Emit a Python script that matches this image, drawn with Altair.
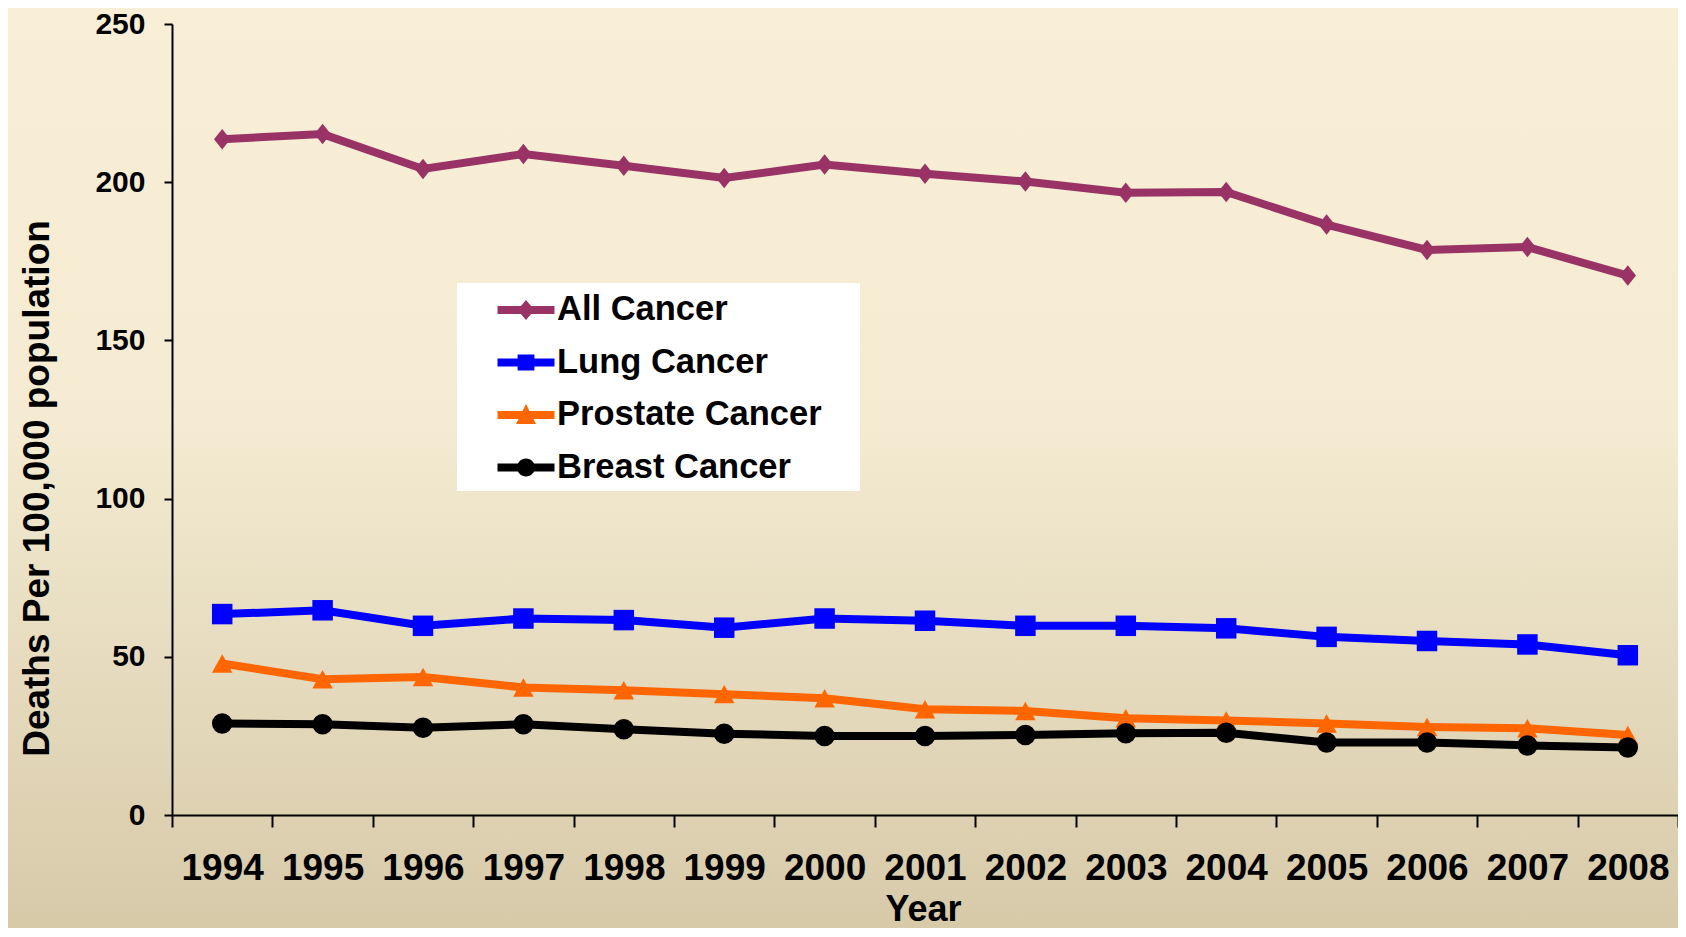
import altair as alt
import pandas as pd

# ---------------- data ----------------
years = [str(y) for y in range(1994, 2009)]
series_names = ["All Cancer", "Lung Cancer", "Prostate Cancer", "Breast Cancer"]
all_cancer = [213.6, 215.2, 204.2, 208.9, 205.2, 201.3, 205.6, 202.7, 200.2, 196.7, 196.9, 186.6, 178.6, 179.5, 170.5]
lung_cancer = [63.5, 64.7, 59.8, 62.1, 61.6, 59.2, 62.1, 61.4, 59.8, 59.8, 59.0, 56.3, 55.0, 53.9, 50.5]
prostate_cancer = [47.9, 42.9, 43.6, 40.3, 39.4, 38.2, 36.9, 33.4, 32.9, 30.6, 29.9, 28.9, 27.8, 27.4, 25.3]
breast_cancer = [28.9, 28.7, 27.6, 28.7, 27.1, 25.7, 25.0, 25.0, 25.3, 25.8, 26.0, 22.9, 22.9, 22.0, 21.3]
y_ticks = [0, 50, 100, 150, 200, 250]

series_colors = ["#993366", "#0000FF", "#FF6600", "#000000"]
marker_paths = [
    "M0,-1L0.8,0L0,1L-0.8,0Z",
    "M-1,-1H1V1H-1Z",
    "M0,-0.9L1,0.9H-1Z",
    "circle",
]
# legend symbols: line + marker (unit = 20 px)
legend_paths = [
    "M-1.425,-0.2H1.425V0.2H-1.425Z M0,-0.5L0.425,0L0,0.5L-0.425,0Z",
    "M-1.425,-0.2H1.425V0.2H-1.425Z M-0.42,-0.4H0.42V0.4H-0.42Z",
    "M-1.425,-0.2H1.425V0.2H-1.425Z M0,-0.55L0.5,0.45H-0.5Z",
    "M-1.425,-0.2H1.425V0.2H-1.425Z M-0.45,0A0.45,0.45 0 1 1 0.45,0A0.45,0.45 0 1 1 -0.45,0Z",
]

rows = []
for name, vals in zip(series_names, [all_cancer, lung_cancer, prostate_cancer, breast_cancer]):
    for yr, v in zip(years, vals):
        rows.append({"Year": yr, "Series": name, "Deaths": v})
df = pd.DataFrame(rows)

# ---------------- layout ----------------
W, H = 1506, 791
PAD = {"left": 164, "top": 16, "right": 0, "bottom": 113}

FONT = "Liberation Sans, Arial, sans-serif"

bg = alt.Chart(alt.Data(values=[{}])).mark_rect(
    color=alt.LinearGradient(
        gradient="linear",
        stops=[
            alt.GradientStop(color="#F9EFD6", offset=0),
            alt.GradientStop(color="#F4EBD2", offset=0.45),
            alt.GradientStop(color="#D7CAA9", offset=1),
        ],
        x1=0, x2=0, y1=0, y2=1,
    )
).encode(
    x=alt.value(-PAD["left"]),
    x2=alt.value(W + 10),
    y=alt.value(-PAD["top"]),
    y2=alt.value(H + PAD["bottom"]),
)

x_enc = alt.X(
    "Year:O",
    sort=years,
    scale=alt.Scale(type="band", paddingInner=0, paddingOuter=0),
    axis=alt.Axis(
        title="Year",
        tickBand="extent",
        labelAngle=0,
        zindex=2,
        domainColor="black", domainWidth=2,
        tickColor="black", tickWidth=2, tickSize=12,
        labelFont=FONT, labelFontSize=37, labelFontWeight="bold", labelColor="black",
        labelPadding=23,
        titleFont=FONT, titleFontSize=36, titleFontWeight="bold", titleColor="black",
        titleX=751, titleY=105, titleBaseline="alphabetic", titleAlign="center",
        grid=False,
    ),
)
y_enc = alt.Y(
    "Deaths:Q",
    scale=alt.Scale(domain=[0, 250], nice=False, zero=True),
    axis=alt.Axis(
        title="Deaths Per 100,000 population",
        values=y_ticks,
        zindex=2,
        domainColor="black", domainWidth=2,
        tickColor="black", tickWidth=2, tickSize=8,
        labelFont=FONT, labelFontSize=30, labelFontWeight="bold", labelColor="black",
        labelPadding=19,
        titleFont=FONT, titleFontSize=37, titleFontWeight="bold", titleColor="black",
        titleAngle=270, titleX=-124, titleY=464, titleBaseline="alphabetic", titleAlign="center",
        grid=False,
    ),
)

color_scale = alt.Scale(domain=series_names, range=series_colors)

legend = alt.Legend(
    title="M",
    titleOrient="right",
    titleColor="white",
    titleFontSize=30,
    titlePadding=6,
    orient="none",
    legendX=285,
    legendY=259,
    fillColor="white",
    padding=7,
    symbolSize=1600,
    symbolOffset=42,
    symbolOpacity=1,
    symbolStrokeWidth=0,
    labelOffset=11,
    rowPadding=15.5,
    labelFont=FONT,
    labelFontSize=34.5,
    labelFontWeight="bold",
    labelColor="black",
    labelLimit=700,
)

base = alt.Chart(df)
lines = base.mark_line(strokeWidth=8).encode(
    x=x_enc, y=y_enc,
    color=alt.Color("Series:N", scale=color_scale, legend=None),
)
points = base.mark_point(filled=True, size=420, opacity=1).encode(
    x=x_enc,
    y=y_enc,
    color=alt.Color("Series:N", scale=color_scale, legend=None),
    shape=alt.Shape("Series:N", scale=alt.Scale(domain=series_names, range=marker_paths), legend=None),
)
legend_layer = base.mark_point(filled=True, size=1600, opacity=1).transform_filter("false").encode(
    x=x_enc,
    y=y_enc,
    color=alt.Color("Series:N", scale=color_scale, legend=legend),
    shape=alt.Shape("Series:N", scale=alt.Scale(domain=series_names, range=legend_paths), legend=legend),
)

chart = alt.layer(bg, lines, points, legend_layer).resolve_scale(
    color="independent", shape="independent"
).properties(
    width=W,
    height=H,
    autosize=alt.AutoSizeParams(type="none"),
    padding=PAD,
    background="#F7EDD4",
).configure_view(stroke=None)

chart.save("out.html", embed_options={"renderer": "svg", "actions": False})
